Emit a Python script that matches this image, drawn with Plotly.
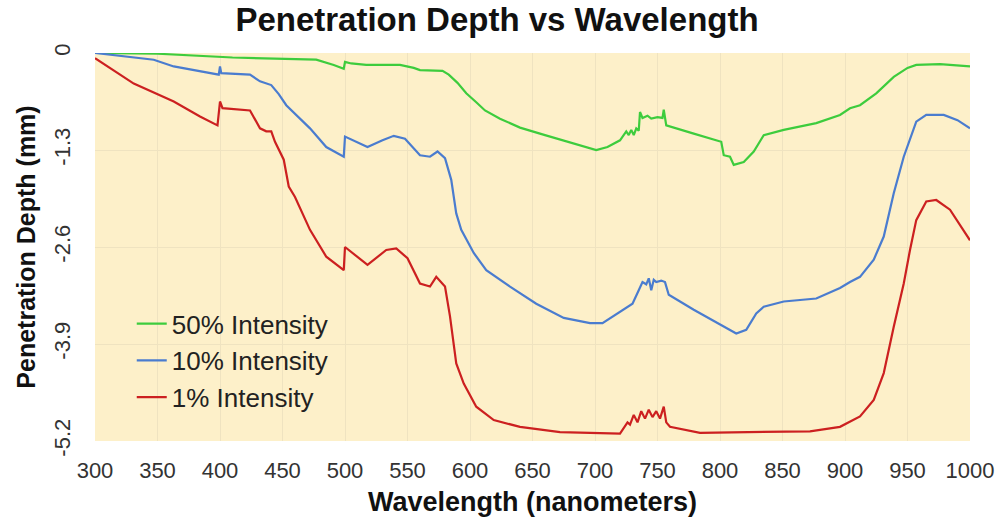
import plotly.graph_objects as go

# Wavelength samples (nm) and penetration depth (mm) for each intensity level
wl_50 = [300, 350, 410, 477, 491, 499, 500, 505, 517, 544, 555, 560, 578, 583, 590, 597, 605, 612,
         624, 640, 660, 680, 693, 701, 710, 720, 725, 727, 729, 731, 733, 735, 736, 738, 742, 745,
         750, 754, 755, 757, 779, 801, 803, 808, 811, 819, 827, 835, 851, 877, 896, 904, 912, 925,
         939, 950, 957, 976, 1000]
depth_50 = [0, -0.01, -0.06, -0.09, -0.16, -0.21, -0.12, -0.14, -0.16, -0.16, -0.20, -0.23, -0.24,
            -0.29, -0.40, -0.54, -0.66, -0.77, -0.88, -1.00, -1.10, -1.20, -1.26, -1.30, -1.26,
            -1.17, -1.05, -1.10, -1.03, -1.10, -1.01, -1.04, -0.79, -0.87, -0.84, -0.88, -0.86,
            -0.87, -0.76, -0.97, -1.08, -1.19, -1.37, -1.39, -1.50, -1.46, -1.32, -1.10, -1.03,
            -0.94, -0.83, -0.74, -0.70, -0.54, -0.32, -0.20, -0.16, -0.15, -0.18]

wl_10 = [300, 347, 363, 384, 399, 400, 401, 424, 432, 441, 447, 453, 461, 472, 485, 499, 500, 518,
         530, 539, 548, 560, 568, 574, 580, 585, 589, 593, 603, 613, 632, 653, 675, 696, 706, 722,
         730, 735, 738, 741, 743, 745, 747, 749, 753, 756, 759, 779, 803, 813, 821, 829, 835, 851,
         877, 896, 904, 912, 923, 931, 939, 947, 957, 965, 979, 990, 1000]
depth_10 = [0, -0.09, -0.18, -0.25, -0.29, -0.18, -0.27, -0.29, -0.38, -0.43, -0.55, -0.70, -0.83,
            -1.01, -1.26, -1.39, -1.12, -1.26, -1.17, -1.11, -1.15, -1.37, -1.39, -1.32, -1.41,
            -1.70, -2.15, -2.37, -2.68, -2.91, -3.13, -3.36, -3.55, -3.62, -3.62, -3.45, -3.36,
            -3.18, -3.07, -3.10, -3.02, -3.18, -3.04, -3.07, -3.05, -3.07, -3.24, -3.44, -3.67,
            -3.76, -3.71, -3.49, -3.40, -3.33, -3.29, -3.15, -3.07, -3.00, -2.77, -2.46, -1.88,
            -1.39, -0.92, -0.83, -0.83, -0.90, -1.01]

wl_1 = [300, 331, 363, 384, 398, 400, 402, 424, 432, 437, 441, 444, 451, 455, 460, 472, 485, 499,
        500, 518, 533, 541, 550, 560, 568, 573, 580, 584, 589, 595, 605, 619, 640, 672, 720, 726,
        728, 731, 734, 737, 740, 743, 746, 749, 752, 755, 757, 760, 784, 872, 896, 912, 923, 931,
        939, 947, 952, 957, 965, 973, 984, 1000]
depth_1 = [-0.07, -0.41, -0.65, -0.85, -0.97, -0.65, -0.74, -0.77, -1.01, -1.05, -1.05, -1.19,
           -1.43, -1.79, -1.93, -2.37, -2.73, -2.91, -2.60, -2.84, -2.64, -2.62, -2.75, -3.09,
           -3.13, -3.00, -3.13, -3.53, -4.16, -4.43, -4.74, -4.92, -5.01, -5.08, -5.10, -4.95,
           -4.98, -4.85, -4.95, -4.80, -4.90, -4.78, -4.88, -4.80, -4.90, -4.74, -4.95, -5.01,
           -5.09, -5.07, -5.01, -4.87, -4.65, -4.29, -3.67, -3.09, -2.64, -2.24, -1.99, -1.97,
           -2.10, -2.51]

x_ticks = [300, 350, 400, 450, 500, 550, 600, 650, 700, 750, 800, 850, 900, 950, 1000]
y_ticks = [0, -1.3, -2.6, -3.9, -5.2]
y_tick_text = ["0", "-1.3", "-2.6", "-3.9", "-5.2"]

series = [
    ("50% Intensity", wl_50, depth_50, "#3dcc3d"),
    ("10% Intensity", wl_10, depth_10, "#4a7ccf"),
    ("1% Intensity", wl_1, depth_1, "#cc2020"),
]

fig = go.Figure()
for name, xs, ys, color in series:
    fig.add_trace(go.Scatter(x=xs, y=ys, mode="lines", name=name, legendgroup=name,
                             line=dict(color=color, width=2.2)))

font_family = "Liberation Sans, Arial, sans-serif"

fig.update_layout(
    width=1000, height=524,
    margin=dict(l=95, r=30, t=53, b=83),
    paper_bgcolor="white",
    plot_bgcolor="#fdf0c9",
    font=dict(family=font_family, color="#222222"),
    title=dict(text="<b>Penetration Depth vs Wavelength</b>", x=0.497, xanchor="center",
               y=0.962, yanchor="middle", font=dict(size=33, color="#111111")),
    showlegend=True,
    legend=dict(x=0.042, y=0.363, xanchor="left", yanchor="top", bgcolor="rgba(0,0,0,0)",
                font=dict(size=26, color="#222222"), traceorder="grouped", tracegroupgap=0),
    xaxis=dict(range=[300, 1000], tickvals=x_ticks, ticks="", showline=False, zeroline=False,
               showgrid=True, gridcolor="#efe3c0", gridwidth=1, automargin=False,
               tickfont=dict(size=22, color="#333333"), ticklabelstandoff=14,
               title=dict(text="<b>Wavelength (nanometers)</b>", font=dict(size=27, color="#111111"),
                          standoff=10)),
    yaxis=dict(range=[-5.2, 0], tickvals=y_ticks, ticktext=y_tick_text, tickangle=-90,
               ticks="", showline=False, zeroline=False,
               showgrid=True, gridcolor="#efe3c0", gridwidth=1, automargin=False,
               tickfont=dict(size=22, color="#333333"), ticklabelstandoff=20,
               title=dict(text="<b>Penetration Depth (mm)</b>", font=dict(size=25, color="#111111"),
                          standoff=6)),
)

fig.write_html("out.html")
